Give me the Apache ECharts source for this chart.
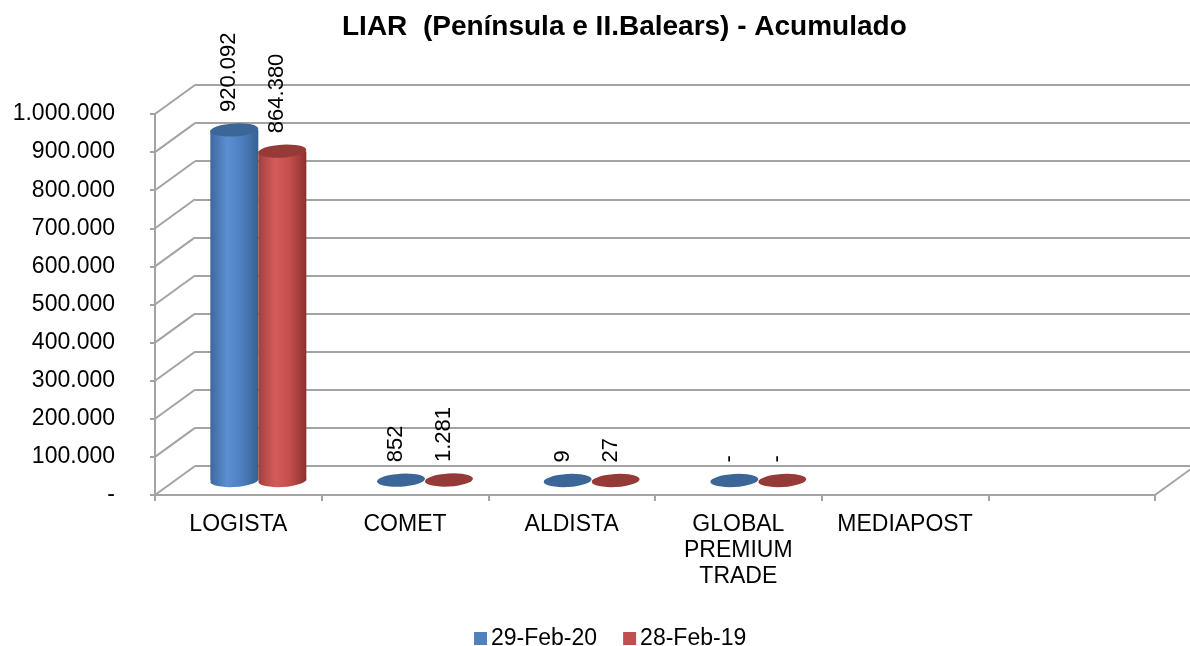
<!DOCTYPE html>
<html><head><meta charset="utf-8">
<script src="https://cdn.jsdelivr.net/npm/echarts@6/dist/echarts.min.js"></script>
<style>html,body{margin:0;padding:0;background:#fff}#c{width:1190px;height:646px}</style>
</head><body><div id="c"></div>
<script>
// ---- data ----
const categories = ['LOGISTA', 'COMET', 'ALDISTA', 'GLOBAL\nPREMIUM\nTRADE', 'MEDIAPOST', ''];
const seriesNames = ['29-Feb-20', '28-Feb-19'];
const feb20 = [920092, 852, 9, 0, null, null];
const feb19 = [864380, 1281, 27, 0, null, null];
const yTicks = [0, 100000, 200000, 300000, 400000, 500000, 600000, 700000, 800000, 900000, 1000000];
const yMin = 0, yMax = 1000000, yInterval = 100000;

// ---- layout / style ----
const FONT = '"Liberation Sans", Arial, sans-serif';
const DX = 40, DY = -29;            // depth offset front -> back
const GRID_FRONT = {left: 155, top: 114, width: 1000, height: 381};
const GRID_BACK = {left: GRID_FRONT.left + DX, top: GRID_FRONT.top + DY, width: 1000, height: 381};
const GRID_MID = {left: GRID_FRONT.left + DX / 2, top: GRID_FRONT.top + DY / 2, width: 1000, height: 381};
const LINE = '#a3a3a3';
const BAR_W = 48, RY = 6.5, TILT = 0.06;
const colors = ['#4F81BD', '#C0504D'];
const bodyStops = [
  [{offset: 0, color: '#3c68a0'}, {offset: 0.35, color: '#5b8fd2'}, {offset: 0.65, color: '#4e80c0'}, {offset: 1, color: '#36608f'}],
  [{offset: 0, color: '#a33f3c'}, {offset: 0.35, color: '#d45c59'}, {offset: 0.65, color: '#c34f4c'}, {offset: 1, color: '#8e302e'}]
];
const topColors = ['#3d6698', '#953a37'];

const fmt = v => v === 0 ? '-' : Math.round(v).toString().replace(/\B(?=(\d{3})+(?!\d))/g, '.');

function ellipse(cx, cy, fill) {
  return {type: 'circle', x: cx, y: cy, scaleY: RY / (BAR_W / 2), rotation: TILT,
    shape: {cx: 0, cy: 0, r: BAR_W / 2}, style: {fill: fill}};
}

function cylRender(sIdx) {
  return function (params, api) {
    const v = api.value(1);
    if (isNaN(v)) return null;
    const i = api.value(0);
    const base = api.coord([i, 0]);
    const top = api.coord([i, v]);
    const cx = base[0] + (sIdx === 0 ? -BAR_W / 2 : BAR_W / 2);
    const children = [];
    const grad = new echarts.graphic.LinearGradient(0, 0, 1, 0, bodyStops[sIdx]);
    if (base[1] - top[1] > 1) {
      children.push(ellipse(cx, base[1], grad));
      children.push({type: 'rect', shape: {x: cx - BAR_W / 2, y: top[1], width: BAR_W, height: base[1] - top[1]}, style: {fill: grad}});
    }
    children.push(ellipse(cx, top[1], topColors[sIdx]));
    children.push({type: 'text', x: cx - 5, y: top[1] - 18, rotation: Math.PI / 2,
      style: {text: fmt(v), fontSize: 22, fontFamily: FONT, fill: '#000', align: 'left', verticalAlign: 'middle'}});
    return {type: 'group', children: children};
  };
}

function frameRender(params, api) {
  const v = api.value(1);
  const half = api.size([1, 0])[0] / 2;
  const p = api.coord([0, v]);
  const x0 = p[0] - half;
  const ch = [{type: 'line', shape: {x1: x0, y1: p[1], x2: x0 + DX, y2: p[1] + DY}, style: {stroke: LINE, lineWidth: 2}}];
  if (v === yMin) {
    const pr = api.coord([categories.length - 1, v]);
    const x1 = pr[0] + half;
    ch.push({type: 'line', shape: {x1: x1, y1: pr[1], x2: x1 + DX, y2: pr[1] + DY}, style: {stroke: LINE, lineWidth: 2}});
  }
  return {type: 'group', children: ch};
}

const toData = arr => arr.map((v, i) => v === null ? [i, '-'] : [i, v]);

const chart = echarts.init(document.getElementById('c'), null, {renderer: 'canvas'});
chart.setOption({
  animation: false,
  backgroundColor: '#fff',
  title: {text: 'LIAR  (Península e II.Balears) - Acumulado', left: 337, top: 8,
    textStyle: {fontSize: 28, fontWeight: 'bold', fontFamily: FONT, color: '#000'}},
  legend: {data: seriesNames, left: 469, top: 622, icon: 'rect', itemWidth: 13, itemHeight: 13, itemGap: 26,
    textStyle: {fontSize: 23, fontFamily: FONT, color: '#000', padding: [0, 0, 0, -1]}},
  grid: [
    Object.assign({}, GRID_FRONT),
    Object.assign({}, GRID_BACK),
    Object.assign({}, GRID_MID)
  ],
  xAxis: [
    {gridIndex: 0, type: 'category', data: categories,
      axisLine: {lineStyle: {color: LINE, width: 2}},
      axisTick: {show: true, length: 6, lineStyle: {color: LINE, width: 2}},
      axisLabel: {color: '#000', fontSize: 23, fontFamily: FONT, margin: 17, lineHeight: 26, interval: 0}},
    {gridIndex: 1, type: 'category', data: categories, show: false},
    {gridIndex: 2, type: 'category', data: categories, show: false}
  ],
  yAxis: [
    {gridIndex: 0, type: 'value', min: yMin, max: yMax, interval: yInterval,
      axisLine: {show: true, lineStyle: {color: LINE, width: 2}},
      axisTick: {show: true, length: 5, lineStyle: {color: LINE, width: 2}},
      splitLine: {show: false},
      axisLabel: {formatter: fmt, color: '#000', fontSize: 23, fontFamily: FONT, margin: 40}},
    {gridIndex: 1, type: 'value', min: yMin, max: yMax, interval: yInterval,
      axisLine: {show: false}, axisTick: {show: false}, axisLabel: {show: false},
      splitLine: {show: true, lineStyle: {color: LINE, width: 2}}},
    {gridIndex: 2, type: 'value', min: yMin, max: yMax, interval: yInterval, show: false, splitLine: {show: false}}
  ],
  series: [
    {type: 'custom', name: 'frame', xAxisIndex: 0, yAxisIndex: 0, silent: true, z: 1,
      data: yTicks.map(t => [0, t]), renderItem: frameRender},
    {type: 'custom', name: seriesNames[0], xAxisIndex: 2, yAxisIndex: 2, z: 5,
      itemStyle: {color: colors[0]}, data: toData(feb20), renderItem: cylRender(0)},
    {type: 'custom', name: seriesNames[1], xAxisIndex: 2, yAxisIndex: 2, z: 6,
      itemStyle: {color: colors[1]}, data: toData(feb19), renderItem: cylRender(1)}
  ]
});
</script></body></html>
